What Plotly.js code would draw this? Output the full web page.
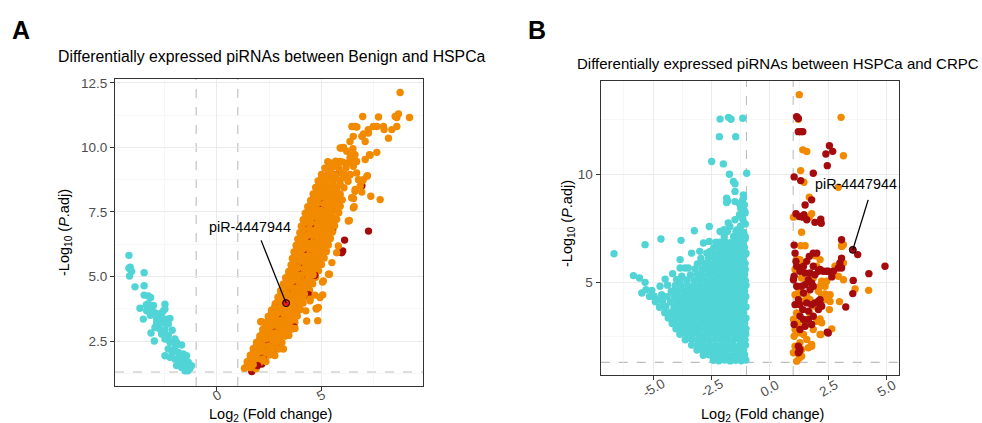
<!DOCTYPE html>
<html>
<head>
<meta charset="utf-8">
<script src="https://cdn.plot.ly/plotly-3.0.1.min.js"></script>
<style>html,body{margin:0;padding:0;background:#fff;}#chart{width:982px;height:423px;}</style>
</head>
<body>
<div id="chart"></div>
<script>
// ---------- Panel A: Benign vs HSPCa ----------
const aDown = [ // cyan, log2FC < -1
[-4.23,5.82],[-4.23,5.32],[-4.17,5.36],[-4.20,5.02],[-4.10,5.20],[-3.50,5.15],[-3.94,4.60],[-3.50,4.64],
[-3.50,4.28],[-3.30,4.25],[-3.19,4.19],[-3.70,3.77],[-3.38,3.67],[-3.14,3.71],[-3.54,3.35],[-2.50,3.93],
[-2.50,3.74],[-3.17,2.81],[-3.01,2.50],[-2.90,3.35],[-2.66,3.41],[-2.42,3.35],[-2.26,3.38],[-2.82,3.16],
[-2.58,3.22],[-2.34,3.16],[-2.98,3.03],[-2.74,2.96],[-2.50,2.94],[-2.15,2.92],[-2.66,2.77],[-2.34,2.71],
[-2.50,2.58],[-2.26,2.45],[-2.02,2.58],[-1.94,2.45],[-1.70,2.35],[-2.34,2.19],[-2.10,2.13],[-1.86,2.06],
[-1.62,2.00],[-1.46,1.93],[-2.50,1.93],[-2.26,1.87],[-2.02,1.80],[-1.78,1.74],[-1.54,1.80],[-1.38,1.68],
[-1.94,1.55],[-1.70,1.48],[-1.46,1.42],[-1.30,1.45],[-1.54,1.35],[-1.22,1.55],[-3.40,3.90],[-3.20,3.50],
[-3.00,3.60],[-2.80,3.55],[-2.60,3.65],[-2.90,3.20],[-2.40,2.60],[-2.00,2.30],[-1.80,1.95],[-1.60,1.60],
[-2.15,2.05],[-1.50,1.55],[-1.40,1.35],[-3.30,3.95],[-3.05,3.88]
];
const aUpBand = [ // orange, main rows of the dense band
[1.32,1.45],[1.60,1.47],[1.88,1.43],
[1.45,1.70],[1.75,1.72],[2.05,1.68],[2.35,1.71],
[1.60,1.95],[1.90,1.97],[2.20,1.93],[2.50,1.96],[2.78,1.94],
[1.74,2.20],[2.04,2.22],[2.34,2.18],[2.64,2.21],[2.95,2.19],
[1.90,2.45],[2.20,2.47],[2.50,2.43],[2.80,2.46],[3.12,2.44],
[2.06,2.70],[2.36,2.72],[2.66,2.68],[2.96,2.71],[3.25,2.69],[3.45,2.72],
[2.20,2.95],[2.50,2.97],[2.80,2.93],[3.10,2.96],[3.40,2.94],[3.60,2.97],
[2.34,3.20],[2.64,3.22],[2.94,3.18],[3.24,3.21],[3.52,3.19],[3.74,3.23],
[2.46,3.45],[2.76,3.47],[3.06,3.43],[3.36,3.46],[3.64,3.44],[3.86,3.47],
[2.62,3.70],[2.92,3.72],[3.22,3.68],[3.52,3.71],[3.80,3.69],[4.00,3.72],
[2.80,3.95],[3.08,3.97],[3.38,3.93],[3.66,3.96],[3.94,3.94],[4.14,3.97],
[2.93,4.20],[3.22,4.22],[3.52,4.18],[3.82,4.21],[4.10,4.19],[4.30,4.22],
[3.06,4.45],[3.36,4.47],[3.66,4.43],[3.96,4.46],[4.24,4.44],[4.45,4.47],
[3.18,4.70],[3.48,4.72],[3.78,4.68],[4.08,4.71],[4.36,4.69],[4.60,4.72],
[3.30,4.95],[3.60,4.97],[3.90,4.93],[4.20,4.96],[4.50,4.94],[4.74,4.97],
[3.45,5.20],[3.74,5.22],[4.04,5.18],[4.34,5.21],[4.64,5.19],[4.88,5.22],
[3.56,5.45],[3.86,5.47],[4.16,5.43],[4.46,5.46],[4.76,5.44],[5.02,5.47],
[3.62,5.70],[3.92,5.72],[4.22,5.68],[4.52,5.71],[4.82,5.69],[5.15,5.72],
[3.70,5.95],[4.00,5.97],[4.30,5.93],[4.60,5.96],[4.90,5.94],[5.26,5.97],
[3.80,6.20],[4.10,6.22],[4.40,6.18],[4.70,6.21],[5.00,6.19],[5.35,6.22],
[3.88,6.45],[4.18,6.47],[4.48,6.43],[4.78,6.46],[5.08,6.44],[5.45,6.47],
[3.98,6.70],[4.28,6.72],[4.58,6.68],[4.88,6.71],[5.18,6.69],[5.55,6.72],
[4.05,6.95],[4.36,6.97],[4.66,6.93],[4.96,6.96],[5.28,6.94],[5.65,6.97],
[4.14,7.20],[4.44,7.22],[4.74,7.18],[5.04,7.21],[5.36,7.19],[5.75,7.22],
[4.24,7.45],[4.54,7.47],[4.84,7.43],[5.14,7.46],[5.46,7.44],[5.85,7.47],
[4.36,7.70],[4.68,7.72],[5.00,7.68],[5.30,7.71],[5.62,7.69],[5.92,7.72],
[4.50,7.95],[4.82,7.97],[5.14,7.93],[5.45,7.96],[5.78,7.94],[6.02,7.97],
[4.62,8.20],[4.95,8.22],[5.28,8.18],[5.60,8.21],[5.92,8.19],
[4.74,8.45],[5.06,8.47],[5.40,8.43],[5.75,8.46],[6.10,8.44],
[4.86,8.70],[5.20,8.72],[5.55,8.68],[5.90,8.71],[6.30,8.69],
[5.02,8.95],[5.36,8.97],[5.70,8.93],[6.05,8.96],[6.40,8.94],
[5.18,9.20],[5.52,9.22],[5.86,9.18],[6.20,9.21],
[5.32,9.45],[5.70,9.47],[6.05,9.43],[6.55,9.46]
];
const aUpFill = [ // orange, in-between rows and outlying genes
[1.46,1.57],[1.74,1.59],
[1.60,1.82],[1.90,1.84],[2.20,1.81],
[1.75,2.07],[2.05,2.09],[2.35,2.06],[2.64,2.08],
[1.89,2.32],[2.19,2.34],[2.49,2.31],[2.80,2.33],
[2.05,2.57],[2.35,2.59],[2.65,2.56],[2.96,2.58],
[2.21,2.82],[2.51,2.84],[2.81,2.81],[3.10,2.83],[3.35,2.82],
[2.35,3.07],[2.65,3.09],[2.95,3.06],[3.25,3.08],[3.50,3.07],
[2.49,3.32],[2.79,3.34],[3.09,3.31],[3.38,3.33],[3.63,3.32],
[2.61,3.57],[2.91,3.59],[3.21,3.56],[3.50,3.58],[3.75,3.57],
[2.77,3.82],[3.07,3.84],[3.37,3.81],[3.66,3.83],[3.90,3.82],
[2.94,4.07],[3.23,4.09],[3.52,4.06],[3.80,4.08],[4.04,4.07],
[3.07,4.32],[3.37,4.34],[3.67,4.31],[3.96,4.33],[4.20,4.32],
[3.21,4.57],[3.51,4.59],[3.81,4.56],[4.10,4.58],[4.34,4.57],
[3.33,4.82],[3.63,4.84],[3.93,4.81],[4.22,4.83],[4.48,4.82],
[3.45,5.07],[3.75,5.09],[4.05,5.06],[4.35,5.08],[4.62,5.07],
[3.59,5.32],[3.89,5.34],[4.19,5.31],[4.49,5.33],[4.76,5.32],
[3.71,5.57],[4.01,5.59],[4.31,5.56],[4.61,5.58],[4.89,5.57],
[3.77,5.82],[4.07,5.84],[4.37,5.81],[4.67,5.83],[4.98,5.82],
[3.85,6.07],[4.15,6.09],[4.45,6.06],[4.75,6.08],[5.08,6.07],
[3.95,6.32],[4.25,6.34],[4.55,6.31],[4.85,6.33],[5.18,6.32],
[4.03,6.57],[4.33,6.59],[4.63,6.56],[4.93,6.58],[5.26,6.57],
[4.13,6.82],[4.43,6.84],[4.73,6.81],[5.03,6.83],[5.36,6.82],
[4.20,7.07],[4.51,7.09],[4.81,7.06],[5.12,7.08],[5.46,7.07],
[4.29,7.32],[4.59,7.34],[4.89,7.31],[5.20,7.33],[5.55,7.32],
[4.39,7.57],[4.69,7.59],[4.99,7.56],[5.30,7.58],[5.65,7.57],
[4.52,7.82],[4.84,7.84],[5.15,7.81],[5.46,7.83],[5.77,7.82],
[4.66,8.07],[4.98,8.09],[5.30,8.06],[5.61,8.08],[5.90,8.07],
[4.78,8.32],[5.11,8.34],[5.44,8.31],[5.76,8.33],
[4.90,8.57],[5.23,8.59],[5.58,8.56],[5.92,8.58],
[5.03,8.82],[5.37,8.84],[5.72,8.81],[6.10,8.83],
[5.99,9.98],[6.23,9.85],[6.39,9.59],[6.63,9.72],[6.71,9.46],[6.55,9.27],[6.31,9.40],[5.91,9.46],
[5.75,9.27],[5.43,9.40],[5.35,9.14],[5.59,8.95],[6.07,9.01],[6.39,8.95],[6.71,9.01],[7.03,8.75],
[7.20,8.88],[6.80,8.75],[6.88,8.50],[6.63,8.30],[6.47,8.05],[6.55,7.66],
[8.80,12.13],[9.25,11.16],[8.64,11.16],[8.72,11.30],[8.56,11.20],[7.00,11.20],[7.76,11.18],
[6.63,10.81],[6.48,10.81],[6.72,10.79],[7.27,10.69],[7.51,10.81],[7.68,10.81],[8.00,10.81],
[8.03,10.69],[8.40,10.69],[8.64,10.81],[8.24,10.36],[7.28,10.56],[7.04,10.52],[6.96,10.43],
[6.55,10.43],[6.39,10.23],[7.12,10.23],[5.92,9.98],[6.08,10.00],[6.53,9.95],[6.40,9.78],
[6.59,9.72],[7.33,9.72],[7.68,9.81],[7.36,9.70],[7.12,9.53],[7.23,8.91],[6.96,8.69],[6.96,8.27],
[7.39,8.11],[7.84,7.98],[6.64,8.37],[6.56,8.02],[6.59,7.70],[6.36,7.17],
[4.84,3.29],[4.87,3.80],[4.76,3.76],[4.47,4.06],[5.08,4.29],[4.71,4.28],[5.36,5.09],[5.07,4.79],
[5.52,5.54],[4.27,3.67],[4.31,3.28],[4.79,3.74],[4.95,4.19],[4.47,4.12],[5.11,4.83],[5.75,5.92],
[5.83,6.18],[6.31,7.15],[2.10,3.25],[3.75,2.99],[3.51,2.96],[5.40,5.09],[3.19,2.19],[2.15,3.25]
];
const aUpDark = [ // dark red, mostly at the band edges
[5.72,8.95],[6.96,8.52],[7.28,6.76],[5.56,6.82],[6.13,6.41],[6.04,5.99],[5.99,5.92],[3.48,3.03],
[3.19,2.84],[3.03,2.46],[2.71,2.00],[2.15,1.61],[1.67,1.32],[5.43,7.14],[3.00,3.40],[3.60,4.60],
[4.20,5.60],[4.50,6.80],[2.60,2.60],[3.90,5.00],[4.80,7.20],[2.30,2.10],[3.30,3.60],[4.00,4.50],
[4.90,6.00],[5.20,7.60],[3.70,3.50],[2.90,2.30],[4.60,5.40]
];
const aUpDarkInner = [ // dark red, inside the band (partly hidden)
[2.45,2.35],[2.85,2.95],[3.15,3.45],[3.55,4.05],[3.05,3.85],[3.85,4.75],[4.05,5.30],[4.35,5.90],
[3.95,5.55],[4.55,6.40],[4.65,7.05],[4.25,6.85],[5.05,7.80],[4.70,5.05],[4.40,4.30],[3.70,3.05],
[2.20,1.85],[1.95,1.55],[3.35,4.45],[4.15,4.90]
];
const aHighlight = [3.32, 3.97];
const aLabelPos = [1.59, 6.90];
const aSegmentStart = [2.12, 6.40];

// ---------- Panel B: HSPCa vs CRPC ----------
const bDown = [ // cyan
[-6.67,6.32],[-5.34,6.74],[-4.66,7.00],[-3.80,6.94],[-3.23,7.38],[-2.59,7.58],[-5.84,5.31],[-5.58,5.20],
[-5.34,5.00],[-5.48,4.51],[-5.30,4.66],[-5.05,4.63],[-4.95,4.36],[-4.48,5.15],[-4.70,4.82],[-4.63,4.43],
[-4.84,4.20],[-4.16,5.40],[-3.99,5.12],[-3.77,5.28],[-3.84,5.66],[-3.63,5.66],[-3.49,5.66],[-3.84,6.05],
[-3.35,6.35],[-3.00,6.43],[-2.56,6.43],[-2.84,6.82],[-2.59,6.89],[-2.25,6.66],[-2.13,6.85],[-2.13,7.35],
[-1.96,7.43],[-1.71,7.58],[-1.39,7.43],[-1.28,7.28],[-1.78,7.74],[-1.49,7.89],[-1.30,8.12],[-1.13,8.20],
[-1.25,8.43],[-1.06,8.20],[-1.49,8.73],[-1.30,8.63],[-1.16,8.81],[-1.85,8.89],[-1.80,8.77],[-1.85,8.69],
[-1.49,9.20],[-1.13,9.04],[-1.13,8.89],[-1.09,8.58],[-1.56,9.66],[-1.49,9.55],[-1.73,9.99],[-0.99,10.04],
[-2.49,10.58],[-1.99,10.47],[-2.16,11.73],[-1.46,11.73],[-2.13,12.54],[-1.77,12.62],[-1.66,12.53],[-1.16,12.58],
[-1.05,5.60],[-1.08,5.90],[-1.04,6.30],[-1.10,6.60],[-1.06,7.00],[-1.12,7.30],[-1.05,7.70],[-1.15,7.90],
[-1.08,8.30],[-1.20,8.00],[-1.25,7.60],[-1.30,7.00],[-1.18,6.80],
[-2.42,1.40],[-2.18,1.38],[-1.93,1.41],[-1.70,1.37],[-1.46,1.40],[-1.22,1.38],[-1.03,1.41],
[-2.85,1.63],[-2.60,1.65],[-2.33,1.62],[-2.08,1.64],[-1.82,1.61],[-1.58,1.64],[-1.33,1.62],[-1.08,1.65],
[-3.12,1.87],[-2.88,1.89],[-2.62,1.86],[-2.38,1.88],[-2.12,1.85],[-1.86,1.88],[-1.60,1.86],[-1.36,1.89],[-1.12,1.87],
[-3.35,2.10],[-3.08,2.12],[-2.83,2.09],[-2.57,2.11],[-2.31,2.08],[-2.06,2.12],[-1.80,2.10],[-1.55,2.09],[-1.28,2.11],[-1.04,2.10],
[-3.62,2.35],[-3.36,2.37],[-3.10,2.34],[-2.85,2.36],[-2.60,2.33],[-2.34,2.36],[-2.08,2.35],[-1.83,2.37],[-1.57,2.34],[-1.31,2.36],[-1.06,2.35],
[-3.85,2.60],[-3.58,2.62],[-3.33,2.59],[-3.06,2.61],[-2.80,2.58],[-2.55,2.62],[-2.30,2.60],[-2.04,2.59],[-1.78,2.61],[-1.52,2.60],[-1.27,2.58],[-1.03,2.61],
[-4.02,2.85],[-3.78,2.87],[-3.52,2.84],[-3.27,2.86],[-3.01,2.83],[-2.75,2.87],[-2.49,2.85],[-2.24,2.84],[-1.98,2.86],[-1.73,2.85],[-1.47,2.83],[-1.21,2.86],[-1.02,2.85],
[-4.18,3.10],[-3.92,3.12],[-3.66,3.09],[-3.40,3.11],[-3.15,3.08],[-2.90,3.12],[-2.64,3.10],[-2.38,3.09],[-2.12,3.11],[-1.87,3.10],[-1.61,3.08],[-1.35,3.11],[-1.08,3.10],
[-4.35,3.35],[-4.08,3.37],[-3.82,3.34],[-3.56,3.36],[-3.30,3.33],[-3.05,3.37],[-2.79,3.35],[-2.53,3.34],[-2.28,3.36],[-2.02,3.35],[-1.76,3.33],[-1.50,3.36],[-1.24,3.35],[-1.02,3.34],
[-4.50,3.60],[-4.22,3.62],[-3.96,3.59],[-3.70,3.61],[-3.44,3.58],[-3.18,3.62],[-2.92,3.60],[-2.66,3.59],[-2.41,3.61],[-2.15,3.60],[-1.90,3.58],[-1.64,3.61],[-1.38,3.60],[-1.12,3.59],
[-4.72,3.85],[-4.45,3.87],[-4.10,3.84],[-3.83,3.86],[-3.57,3.83],[-3.31,3.87],[-3.05,3.85],[-2.80,3.84],[-2.54,3.86],[-2.28,3.85],[-2.03,3.83],[-1.77,3.86],[-1.51,3.85],[-1.25,3.84],[-1.02,3.86],
[-4.90,4.10],[-4.60,4.12],[-4.25,4.09],[-3.96,4.11],[-3.70,4.08],[-3.45,4.12],[-3.19,4.10],[-2.93,4.09],[-2.67,4.11],[-2.42,4.10],[-2.16,4.08],[-1.90,4.11],[-1.64,4.10],[-1.38,4.09],[-1.10,4.11],
[-5.15,4.35],[-4.40,4.34],[-4.10,4.36],[-3.83,4.33],[-3.57,4.37],[-3.30,4.35],[-3.05,4.34],[-2.80,4.36],[-2.54,4.35],[-2.29,4.33],[-2.03,4.36],[-1.77,4.35],[-1.51,4.34],[-1.25,4.36],[-1.03,4.35],
[-4.22,4.59],[-3.95,4.61],[-3.68,4.58],[-3.42,4.62],[-3.16,4.60],[-2.90,4.59],[-2.64,4.61],[-2.38,4.60],[-2.12,4.58],[-1.87,4.61],[-1.61,4.60],[-1.35,4.59],[-1.08,4.61],
[-4.38,4.87],[-4.05,4.84],[-3.78,4.86],[-3.50,4.83],[-3.22,4.87],[-2.96,4.85],[-2.70,4.84],[-2.45,4.86],[-2.20,4.85],[-1.95,4.83],[-1.70,4.86],[-1.45,4.85],[-1.20,4.84],[-1.02,4.86],
[-3.85,5.09],[-3.55,5.11],[-3.25,5.08],[-3.00,5.12],[-2.75,5.10],[-2.50,5.09],[-2.25,5.11],[-2.00,5.10],[-1.75,5.08],[-1.50,5.11],[-1.25,5.10],[-1.05,5.09],
[-3.40,5.34],[-3.10,5.36],[-2.85,5.33],[-2.58,5.37],[-2.32,5.35],[-2.08,5.34],[-1.82,5.36],[-1.58,5.35],[-1.33,5.33],[-1.08,5.36],
[-3.20,5.62],[-2.90,5.59],[-2.65,5.61],[-2.40,5.58],[-2.15,5.62],[-1.90,5.60],[-1.65,5.59],[-1.40,5.61],[-1.15,5.60],
[-3.10,5.85],[-2.80,5.87],[-2.55,5.84],[-2.28,5.86],[-2.02,5.83],[-1.78,5.87],[-1.55,5.85],[-1.30,5.84],[-1.06,5.86],
[-2.95,6.10],[-2.62,6.12],[-2.35,6.09],[-2.10,6.11],[-1.85,6.08],[-1.62,6.12],[-1.38,6.10],[-1.15,6.09],
[-2.70,6.35],[-2.45,6.37],[-2.18,6.34],[-1.95,6.36],[-1.72,6.33],[-1.48,6.37],[-1.22,6.35],[-1.02,6.34],
[-2.40,6.60],[-2.05,6.62],[-1.80,6.59],[-1.58,6.61],[-1.35,6.58],[-1.10,6.62],
[-2.30,6.85],[-1.90,6.87],[-1.65,6.84],[-1.42,6.86],[-1.18,6.83],
[-1.95,7.10],[-1.55,7.12],[-1.30,7.09],[-1.05,7.11],
[-1.82,7.35],[-1.45,7.37],[-1.20,7.34]
];
const bUp = [ // orange
[1.26,13.67],[1.22,12.53],[3.05,12.62],[1.41,11.12],[1.58,11.04],[3.15,10.85],[1.32,10.16],[1.46,9.62],
[2.93,9.39],[1.69,8.93],[1.01,8.01],[1.79,8.17],[1.69,8.01],
[1.36,7.31],[1.32,6.69],[1.51,6.69],[3.07,6.69],[3.15,6.74],[3.65,4.69],[4.23,4.63],[2.98,4.11],[3.15,5.89],
[2.79,5.74],[3.15,5.12],[2.58,4.43],[2.43,4.20],[2.58,4.12],[2.22,4.36],[2.36,4.46],[2.55,3.74],[2.15,3.31],
[2.65,2.85],[2.15,2.59],[1.93,6.23],[2.15,6.05],[2.00,5.74],[1.86,5.20],
[1.15,6.08],[1.08,5.59],[1.29,6.05],[1.44,5.89],[1.36,5.20],[1.22,4.74],[1.08,4.43],[1.44,4.13],[1.58,4.36],
[1.72,4.20],[1.15,3.59],[1.01,3.28],[1.08,2.82],[1.04,2.51],[1.22,2.67],[1.44,2.59],[1.58,2.36],[1.79,2.13],
[1.65,1.98],[1.36,1.59],[1.15,1.36],[1.01,1.75],[1.29,2.21],[1.08,2.05],[2.08,4.59],[2.22,5.05],[2.36,4.82],
[2.43,5.05],[2.15,4.82],[2.01,3.20],[2.22,3.13],[1.86,2.82],[1.26,1.51],[1.36,1.90],[1.79,2.05],[2.86,5.74],
[2.93,5.28],[2.19,2.59],[3.08,6.66],[1.50,3.00],[1.70,3.60],[1.90,3.90],[1.30,4.50],[1.60,5.00],[1.20,3.10]
];
const bUpDark = [ // dark red
[1.15,12.65],[1.22,12.57],[1.22,11.96],[1.32,11.96],[1.41,11.96],[2.55,11.31],[2.40,10.93],[2.69,11.05],
[2.46,10.39],[1.04,9.87],[1.32,9.70],[1.86,10.04],[1.51,8.57],[1.79,8.81],[1.12,8.17],[1.26,8.04],
[1.41,8.01],[1.58,7.89],[1.46,8.12],[1.93,7.77],[2.18,7.92],[2.20,7.73],
[1.04,6.72],[3.07,6.97],[3.76,6.28],[4.93,5.74],[4.24,5.40],[3.57,5.09],[3.55,4.48],[3.25,3.86],[3.07,6.12],
[3.00,5.89],[2.93,5.66],[3.07,5.66],[2.65,5.25],[2.29,5.51],[2.43,5.51],[2.15,5.59],[2.15,4.20],[2.22,3.89],
[2.18,3.97],[2.08,3.74],[2.46,2.70],[2.08,5.51],[2.50,5.51],[2.72,5.51],[2.50,2.66],
[1.86,6.35],[2.01,6.35],[1.69,6.20],[1.58,5.97],[1.86,5.74],[1.44,5.74],[1.29,5.51],[1.51,5.43],[1.72,5.43],
[1.93,5.35],[1.65,5.12],[1.79,4.97],[1.51,4.89],[1.36,4.82],[1.86,4.82],[1.72,4.66],[1.44,4.51],[1.22,4.20],
[1.08,3.97],[1.29,3.97],[1.58,4.05],[1.79,3.97],[1.93,4.05],[2.08,4.13],[1.41,3.74],[1.65,3.67],[1.29,3.43],
[1.44,3.28],[1.65,3.28],[1.86,3.43],[1.79,3.05],[1.51,2.97],[1.29,2.82],[1.04,3.05],[1.15,4.82],[1.04,5.28],
[1.01,5.12],[1.15,5.74],[1.12,5.97],[1.08,6.35],[1.22,2.05],[1.29,1.90],[1.26,1.82],[1.22,1.75]
];
const bHighlight = [3.55, 6.50];
const bLabelPos = [3.68, 9.53];
const bSegmentStart = [4.21, 8.81];

// thresholds and tick labels
const fcThreshold = [-1, 1];
const padjLine = 1.30103;
const aTickVals = [0, 5];
const aTickText = ["0", "5"];
const bTickVals = [-5, -2.5, 0, 2.5, 5];
const bTickText = ["-5.0", "-2.5", "0.0", "2.5", "5.0"];
const labelName = "piR-4447944";

const COL_CYAN = "#50D4D6", COL_ORANGE = "#F28A00", COL_RED = "#A50A0D";
const FONT = "Liberation Sans, Arial, Helvetica, sans-serif";
const MSIZE = 7.4;

function pts(arr, color, xa, ya) {
  return {
    type: "scatter", mode: "markers", xaxis: xa, yaxis: ya,
    x: arr.map(p => p[0]), y: arr.map(p => p[1]),
    marker: {color: color, size: MSIZE, line: {width: 0}},
    hoverinfo: "x+y"
  };
}

const traces = [
  pts(aUpDark, COL_RED, "x", "y"),
  pts(aUpBand, COL_ORANGE, "x", "y"),
  pts(aUpDarkInner, COL_RED, "x", "y"),
  pts(aUpFill, COL_ORANGE, "x", "y"),
  pts(aDown, COL_CYAN, "x", "y"),
  {type: "scatter", mode: "markers", xaxis: "x", yaxis: "y", x: [aHighlight[0]], y: [aHighlight[1]],
   marker: {color: "#F01818", size: 7, line: {width: 1, color: "#000"}}},
  pts(bDown, COL_CYAN, "x2", "y2"),
  pts(bUp, COL_ORANGE, "x2", "y2"),
  pts(bUpDark, COL_RED, "x2", "y2"),
  {type: "scatter", mode: "markers", xaxis: "x2", yaxis: "y2", x: [bHighlight[0]], y: [bHighlight[1]],
   marker: {color: COL_RED, size: 7, line: {width: 1, color: "#000"}}}
];

const axisCommon = {
  showgrid: true, gridcolor: "#EBEBEB", gridwidth: 1, zeroline: false,
  showline: true, mirror: true, linecolor: "#333333", linewidth: 1.1,
  ticks: "outside", ticklen: 4, tickwidth: 1, tickcolor: "#333333",
  tickfont: {family: FONT, size: 13.5, color: "#4D4D4D"}
};
const minorGrid = (d) => ({dtick: d, tick0: 0, showgrid: true, gridcolor: "#F2F2F2", gridwidth: 0.6, ticks: ""});

const layout = {
  width: 982, height: 423,
  margin: {l: 0, r: 0, t: 0, b: 0},
  paper_bgcolor: "#fff", plot_bgcolor: "#fff",
  showlegend: false,
  font: {family: FONT, color: "#000"},
  xaxis: Object.assign({}, axisCommon, {domain: [0.1171, 0.4308], range: [-4.9, 9.9], tickmode: "array", tickvals: aTickVals, showticklabels: false,
    minor: {tickvals: [-2.5, 2.5, 7.5], showgrid: true, gridcolor: "#F2F2F2", gridwidth: 0.6, ticks: ""}}),
  yaxis: Object.assign({}, axisCommon, {domain: [0.0875, 0.8132], range: [0.76, 12.65], tickmode: "linear", tick0: 0, dtick: 2.5, tickformat: ".1f", minor: minorGrid(1.25)}),
  xaxis2: Object.assign({}, axisCommon, {domain: [0.6117, 0.9155], range: [-7.24, 5.53], anchor: "y2", tickmode: "array", tickvals: bTickVals, showticklabels: false,
    minor: {tickvals: [-6.25, -3.75, -1.25, 1.25, 3.75], showgrid: true, gridcolor: "#F2F2F2", gridwidth: 0.6, ticks: ""}}),
  yaxis2: Object.assign({}, axisCommon, {domain: [0.1135, 0.8085], range: [0.72, 14.3], anchor: "x2", tickmode: "linear", tick0: 0, dtick: 5, minor: minorGrid(2.5)}),
  shapes: [],
  annotations: []
};

const dashLine = {color: "#BDBDBD", width: 1.1, dash: "dash"};
[["x", "y"], ["x2", "y2"]].forEach(([xa, ya]) => {
  fcThreshold.forEach(v => layout.shapes.push({type: "line", xref: xa, yref: ya + " domain", x0: v, x1: v, y0: 0, y1: 1, line: dashLine, layer: "below"}));
  layout.shapes.push({type: "line", xref: xa + " domain", yref: ya, x0: 0, x1: 1, y0: padjLine, y1: padjLine, line: dashLine, layer: "below"});
});

const ann = layout.annotations;
function paperText(text, x, y, size, opts) {
  ann.push(Object.assign({xref: "paper", yref: "paper", x: x, y: y, text: text, showarrow: false,
    xanchor: "center", yanchor: "middle", font: {family: FONT, size: size, color: "#000"}}, opts || {}));
}
paperText("<b>A</b>", 21 / 982, 1 - 30 / 423, 25);
paperText("<b>B</b>", 537 / 982, 1 - 30 / 423, 25);
paperText("Differentially expressed piRNAs between Benign and HSPCa", 272 / 982, 1 - 57 / 423, 15.8);
paperText("Differentially expressed piRNAs between HSPCa and CRPC", 778 / 982, 1 - 63 / 423, 15.0);
paperText("Log<sub>2</sub> (Fold change)", 270 / 982, 1 - 415 / 423, 14.5);
paperText("Log<sub>2</sub> (Fold change)", 762 / 982, 1 - 415 / 423, 14.5);
paperText("-Log<sub>10</sub> (<i>P</i>.adj)", 65 / 982, 1 - 233 / 423, 14.5, {textangle: -90});
paperText("-Log<sub>10</sub> (<i>P</i>.adj)", 568 / 982, 1 - 224 / 423, 14.5, {textangle: -90});

// rotated x tick labels, centred on their ticks
const tickFont = {family: FONT, size: 13.5, color: "#4D4D4D"};
aTickVals.forEach((v, i) => ann.push({xref: "x", yref: "paper", x: v, y: 1 - 395 / 423, text: aTickText[i], showarrow: false,
  textangle: -30, xanchor: "center", yanchor: "middle", font: tickFont}));
bTickVals.forEach((v, i) => ann.push({xref: "x2", yref: "paper", x: v, y: 1 - 388 / 423, text: bTickText[i], showarrow: false,
  textangle: -30, xanchor: "center", yanchor: "middle", font: tickFont}));

// labels + segments
[["x", "y", aLabelPos, aSegmentStart, aHighlight], ["x2", "y2", bLabelPos, bSegmentStart, bHighlight]].forEach(([xa, ya, lp, ss, hp]) => {
  ann.push({xref: xa, yref: ya, x: lp[0], y: lp[1], text: labelName, showarrow: false,
    font: {family: FONT, size: 14.3, color: "#000"}, xanchor: "center", yanchor: "middle"});
  layout.shapes.push({type: "line", xref: xa, yref: ya, x0: ss[0], y0: ss[1], x1: hp[0], y1: hp[1],
    line: {color: "#000", width: 1.3}, layer: "above"});
});

Plotly.newPlot("chart", traces, layout, {displayModeBar: false, staticPlot: true});
</script>
</body>
</html>
